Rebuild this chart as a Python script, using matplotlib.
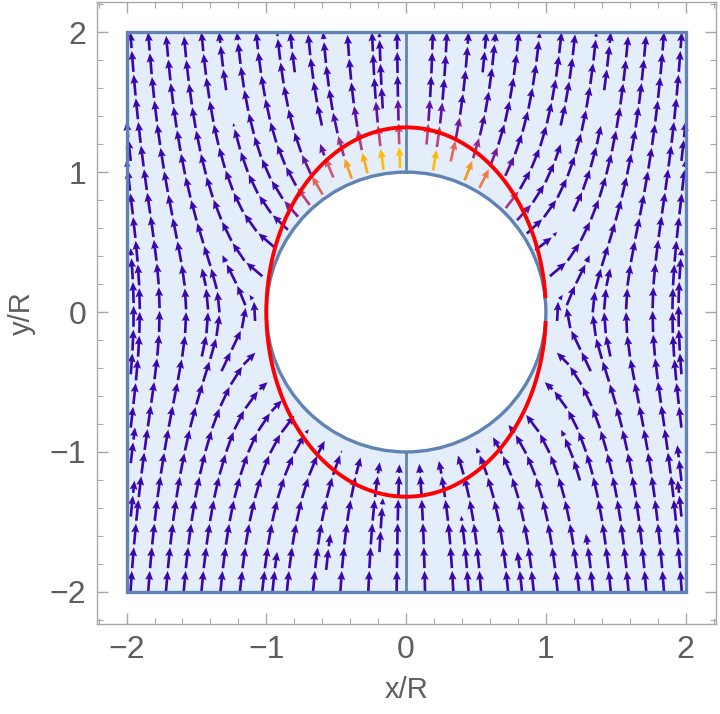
import numpy as np
import matplotlib
matplotlib.use("Agg")
import matplotlib.pyplot as plt
from matplotlib.colors import LinearSegmentedColormap, Normalize
from matplotlib.patches import Rectangle, Circle
from matplotlib.ticker import MultipleLocator

# field parameters (sphere radius R in a uniform field E0 along y)
E0 = 1.0
R = 1.0
box = [-2.0, 2.0]
# red curve: deformed shape, semi-axes in x and y
shape_axes = [1.0, 1.32]
gap_angles = [-2.8, 4.3]   # small gap where the red curve is not drawn (deg)

x_ticks = [-2, -1, 0, 1, 2]
y_ticks = [-2, -1, 0, 1, 2]
x_label = "x/R"
y_label = "y/R"

# arrow colours, weak -> strong outward field
arrow_colors = ["#3A06AE", "#3A06AE", "#7A1AA0", "#D85A6A", "#F8902A", "#FFC400"]
arrow_stops = [0.0, 0.15, 0.35, 0.6, 0.8, 1.0]

plt.rcParams["font.family"] = ["Liberation Sans", "DejaVu Sans"]
plt.rcParams["axes.unicode_minus"] = True

fill_col = "#E4EDFA"
edge_col = "#6083B4"
frame_col = "#A8A8A8"
text_col = "#5E5E5E"


def field(x, y):
    """uniform field + induced dipole of a conducting sphere"""
    r = np.hypot(x, y)
    r = np.where(r == 0, 1e-9, r)
    c = y / r
    k = E0 * R**3 / r**3
    ex = k * 3 * c * x / r
    ey = E0 + k * (3 * c * y / r - 1)
    return ex, ey


# grid for the stream integration
gx = np.linspace(box[0], box[1], 241)
gy = np.linspace(box[0], box[1], 241)
GX, GY = np.meshgrid(gx, gy)
U, V = field(GX, GY)
inside = np.hypot(GX, GY) < R
U = np.ma.array(U, mask=inside)
V = np.ma.array(V, mask=inside)

# seeds: first along the sphere (upper, then lower arc), then a grid, outside in
arc_up = np.radians(np.arange(33, 148, 6.6))
arc_low = np.radians(np.arange(-145, -34, 7.5))
arc = np.concatenate([arc_up, arc_low])
arc_seeds = np.column_stack([1.03 * R * np.cos(arc), 1.03 * R * np.sin(arc)])
n = 32
sx = np.linspace(box[0] + 0.03, box[1] - 0.03, n)
ii, jj = np.meshgrid(np.arange(n), np.arange(n))
ring = np.minimum.reduce([ii, jj, n - 1 - ii, n - 1 - jj]).ravel()
order = np.argsort(ring, kind="stable")
grid_seeds = np.column_stack([sx[ii.ravel()], sx[jj.ravel()]])[order]
grid_seeds = grid_seeds[np.hypot(grid_seeds[:, 0], grid_seeds[:, 1]) > 1.04 * R]
seeds = np.vstack([arc_seeds, grid_seeds])

# let matplotlib find the streamlines, then cut them into arrow pieces
tmp_fig, tmp_ax = plt.subplots()
sp = tmp_ax.streamplot(gx, gy, U, V, density=1.05, minlength=0.04,
                       start_points=seeds, integration_direction="both")
trajs = [np.asarray(s) for s in sp.lines.get_segments()]
plt.close(tmp_fig)

step = 0.17
gap = 0.02
X0, Y0, DX, DY = [], [], [], []
for t in trajs:
    d = np.hypot(*np.diff(t, axis=0).T)
    s = np.concatenate([[0], np.cumsum(d)])
    total = s[-1]
    # lines that run into the sphere stop a little before it
    if np.hypot(*t[-1]) < 1.08 * R:
        total -= 0.06
    if total < 0.02:
        continue
    starts = np.arange(0, total, step)
    ends = np.minimum(starts + step - gap, total)
    xa = np.interp(starts, s, t[:, 0])
    ya = np.interp(starts, s, t[:, 1])
    xb = np.interp(ends, s, t[:, 0])
    yb = np.interp(ends, s, t[:, 1])
    X0.extend(xa); Y0.extend(ya)
    DX.extend(xb - xa); DY.extend(yb - ya)
X0, Y0, DX, DY = map(np.array, (X0, Y0, DX, DY))
ex, ey = field(X0, Y0)
rr = np.hypot(X0, Y0)
e_out = (ex * X0 + ey * Y0) / rr   # outward (radial) component

cmap = LinearSegmentedColormap.from_list("arrows", list(zip(arrow_stops, arrow_colors)))
norm = Normalize(vmin=1.35, vmax=2.85, clip=True)

fig = plt.figure(figsize=(7.2, 7.14), dpi=100)
ax = fig.add_axes([0.135, 0.126, 0.86, 0.871])

ax.add_patch(Rectangle((box[0], box[0]), box[1] - box[0], box[1] - box[0],
                       facecolor=fill_col, edgecolor="none", zorder=0))
ax.add_patch(Circle((0, 0), R, facecolor="white", edgecolor="none", zorder=0.5))

ax.quiver(X0, Y0, DX, DY, e_out, cmap=cmap, norm=norm, angles="xy",
          scale_units="xy", scale=1, width=0.0043, headwidth=3.0,
          headlength=3.4, headaxislength=3.0, minlength=0.6, pivot="tail",
          zorder=2)

# region edges
ax.add_patch(Rectangle((box[0], box[0]), box[1] - box[0], box[1] - box[0],
                       facecolor="none", edgecolor=edge_col, lw=2.4, zorder=3))
ax.add_patch(Circle((0, 0), R, facecolor="none", edgecolor=edge_col, lw=2.4, zorder=3))
ax.plot([0, 0], [R, box[1]], color=edge_col, lw=2.0, zorder=3)
ax.plot([0, 0], [box[0], -R], color=edge_col, lw=2.0, zorder=3)

# red deformed shape
th = np.radians(np.linspace(gap_angles[1], 360 + gap_angles[0], 600))
ax.plot(shape_axes[0] * np.cos(th), shape_axes[1] * np.sin(th), color="#FF0000",
        lw=2.8, zorder=4, solid_capstyle="butt")

ax.set_xlim(-2.21, 2.22)
ax.set_ylim(-2.23, 2.215)
ax.set_xticks(x_ticks)
ax.set_yticks(y_ticks)
ax.xaxis.set_minor_locator(MultipleLocator(0.2))
ax.yaxis.set_minor_locator(MultipleLocator(0.2))
ax.tick_params(which="both", direction="in", top=True, right=True,
               color=frame_col, labelcolor=text_col)
ax.tick_params(which="major", length=8, width=1.0, labelsize=23, pad=8)
ax.tick_params(which="minor", length=4.5, width=0.8)
for sp_ in ax.spines.values():
    sp_.set_color(frame_col)
    sp_.set_linewidth(1.0)
ax.set_xlabel(x_label, fontsize=21, color=text_col, labelpad=8)
ax.set_ylabel(y_label, fontsize=21, color=text_col, labelpad=10)

fig.savefig("out.png", dpi=100)
